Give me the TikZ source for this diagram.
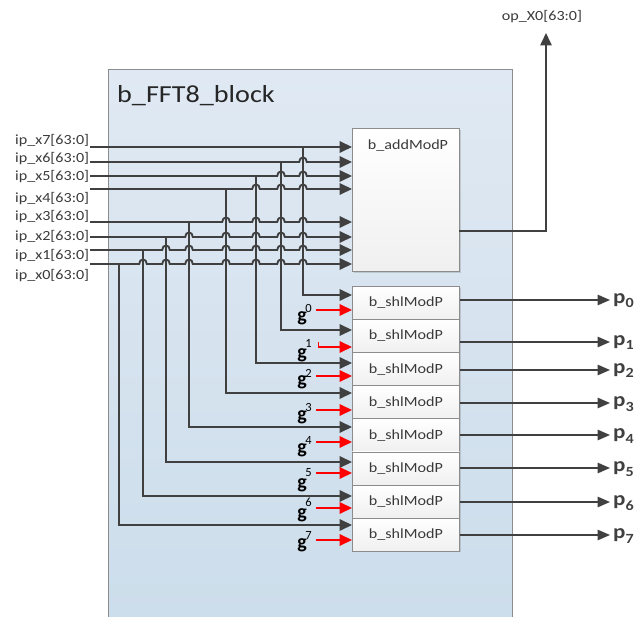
\documentclass[tikz,border=0pt]{standalone}
\usepackage{fontspec}
\setmainfont{Carlito}
\usetikzlibrary{arrows.meta,shadows}
\definecolor{wirec}{HTML}{404040}
\definecolor{txtc}{HTML}{3A3A3A}
\definecolor{bgtop}{RGB}{224,233,243}
\definecolor{bgbot}{RGB}{204,221,235}
\definecolor{edgec}{HTML}{8C8C8C}
\newcommand\sx[1]{\scalebox{1.15}[1]{#1}}
\tikzset{
 wire/.style={draw=wirec, line width=1.9pt},
 tipend/.style={-{Triangle[length=12.5pt,width=11.5pt]}},
 redwire/.style={draw=red, line width=1.9pt, -{Triangle[length=12.5pt,width=11.5pt]}},
 outwire/.style={draw=wirec, line width=1.5pt, -{Triangle[length=12.5pt,width=10.5pt]}},
 blk/.style={draw=edgec, line width=0.8pt, top color=white, bottom color=gray!12,
   drop shadow={opacity=0.3, shadow xshift=1.2pt, shadow yshift=-1.2pt},
   inner sep=0pt, anchor=north west, minimum width=107pt},
 lab/.style={text=txtc, font=\fontsize{14}{16}\selectfont, inner sep=0pt},
 glab/.style={text=black, font=\fontsize{20}{20}\selectfont\bfseries, inner sep=0pt},
 gexp/.style={text=black, font=\fontsize{12.5}{13}\selectfont, inner sep=0pt},
 plab/.style={text=wirec, font=\fontsize{20}{20}\selectfont\bfseries, inner sep=0pt, anchor=base west},
}
\newcommand\hopwire[4]{%
 \draw[wire,tipend] (#1) \foreach \h in {#3}{ -- (\h-3.8,#2) .. controls (\h-3.8,#2-6) and (\h+3.8,#2-6) .. (\h+3.8,#2)} -- (#4);}
\begin{document}
\begin{tikzpicture}[x=1pt,y=-1pt]
\useasboundingbox (0,0) rectangle (637,617);
% outer block
\fill[top color=bgtop, bottom color=bgbot] (108,70) rectangle (512,617);
\draw[edgec, line width=1pt] (108,617) -- (108,70) -- (512,70) -- (512,617);
\node[anchor=base west, text=black!85, font=\fontsize{24.5}{28}\selectfont, inner sep=0pt] (title) at (117,103) {\sx{b\_FFT8\_block}};
% addModP
\node[blk, minimum height=143pt] (add) at (352,128) {};
\node[lab] (addlab) at (408,146) {\sx{b\_addModP}};
% shlModP blocks
\foreach \i in {0,...,7}
  \node[blk, minimum height=33.1pt, text=txtc, font=\fontsize{14}{16}\selectfont] (s\i) at (352,{286+33.1*\i}) {\sx{b\_shlModP}};
% input labels
\foreach \k/\y in {7/141,6/159,5/177,4/199,3/217,2/237,1/256,0/276}
  \node[lab, anchor=west] (ip\k) at (15,\y) {\sx{ip\_x\k[63:0]}};
% input line starts and junctions
\foreach \k/\y/\v in {7/147/303,6/162/281,5/176/256,4/189/226,3/222/189,2/237/166,1/250/143,0/264/119}{
  \coordinate (in\k) at (90,\y);
  \coordinate (j\k) at (\v,\y);
}
% shl input points
\foreach \i/\y in {0/295,1/330,2/363,3/393,4/427,5/462,6/496,7/525}
  \coordinate (si\i) at (352,\y);
% horizontal input wires with hops
\draw[wire,tipend] (in7) -- (add.west |- in7);
\hopwire{in6}{162}{303}{add.west |- in6}
\hopwire{in5}{176}{281,303}{add.west |- in5}
\hopwire{in4}{189}{256,281,303}{add.west |- in4}
\hopwire{in3}{222}{226,256,281,303}{add.west |- in3}
\hopwire{in2}{237}{189,226,256,281,303}{add.west |- in2}
\hopwire{in1}{250}{166,189,226,256,281,303}{add.west |- in1}
\hopwire{in0}{264}{143,166,189,226,256,281,303}{add.west |- in0}
% vertical drops into shlModP
\draw[wire,tipend] (j7) |- (si0);
\draw[wire,tipend] (j6) |- (si1);
\draw[wire,tipend] (j5) |- (si2);
\draw[wire,tipend] (j4) |- (si3);
\draw[wire,tipend] (j3) |- (si4);
\draw[wire,tipend] (j2) |- (si5);
\draw[wire,tipend] (j1) |- (si6);
\draw[wire,tipend] (j0) |- (si7);
% g inputs
\foreach \i/\y in {0/310,1/347,2/376,3/410,4/442,5/473,6/508,7/540}{
  \coordinate (gs\i) at (316,\y);
  \coordinate (ge\i) at (352,\y);
}
\foreach \i in {0,2,3,4,5,6,7}
  \draw[redwire] (gs\i) -- (ge\i);
\coordinate (hook1) at (318.5,342.5);
\draw[redwire] (hook1) |- (ge1);
\foreach \i/\gy/\ey in {0/318/308,1/355/343,2/382/373,3/417/407,4/450/440,5/485/473,6/515/502,7/545/535}{
  \node[glab] (g\i) at (302,\gy) {g};
  \node[gexp] (ge\i x) at (308.5,\ey) {\i};
}
% outputs p
\foreach \i/\y in {0/300,1/342,2/370,3/403,4/435,5/468,6/502,7/535}{
  \coordinate (po\i) at (610,\y);
  \draw[outwire] (s\i.east |- po\i) -- (po\i);
  \node[plab] (p\i) at (613,\y+3.5) {\sx{p}\raisebox{-4.5pt}{\fontsize{14}{14}\selectfont\sx{\i}}};
}
% addModP output
\coordinate (addout) at (459,231);
\coordinate (optip) at (546,33);
\draw[wire,line width=1.6pt,tipend] (addout) -| (optip);
\node[lab] (opx) at (542,17) {\sx{op\_X0[63:0]}};
\end{tikzpicture}
\end{document}
